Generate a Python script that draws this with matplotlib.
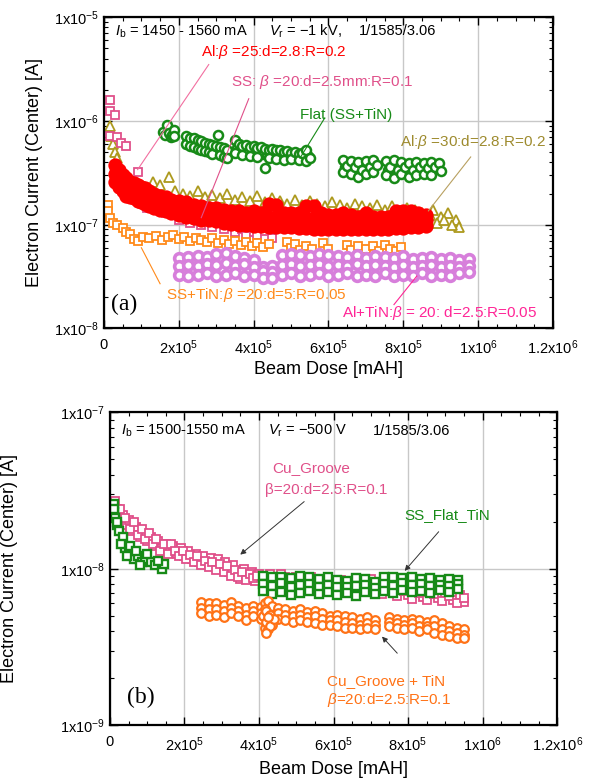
import numpy as np
import matplotlib
matplotlib.use('Agg')
import matplotlib.pyplot as plt
from matplotlib.ticker import MultipleLocator, LogLocator, NullFormatter

plt.rcParams['font.family'] = ['Liberation Sans', 'DejaVu Sans']
plt.rcParams['mathtext.fontset'] = 'custom'
plt.rcParams['mathtext.rm'] = 'Liberation Sans'
plt.rcParams['mathtext.it'] = 'Liberation Sans:italic'
plt.rcParams['mathtext.bf'] = 'Liberation Sans:bold'

# ---------------- panel (a) data ----------------
ss_pts = np.array([
    (1.5e4, 1.6e-6), (1.5e4, 1.25e-6), (3.0e4, 1.15e-6), (1.5e4, 7.1e-7), (3.5e4, 7.0e-7),
    (4.5e4, 6.2e-7), (6.0e4, 5.7e-7), (9.0e4, 3.2e-7), (1.0e5, 1.7e-7), (1.15e5, 1.45e-7),
    (1.3e5, 1.9e-7), (1.5e5, 1.5e-7), (1.65e5, 1.3e-7), (2.0e5, 1.1e-7), (2.1e5, 1.2e-7),
    (2.3e5, 1.05e-7), (2.4e5, 1.15e-7), (2.6e5, 1.0e-7), (2.8e5, 1.1e-7), (2.9e5, 9.5e-8),
    (3.1e5, 1.05e-7), (3.2e5, 9.0e-8), (3.4e5, 1.0e-7), (3.5e5, 8.5e-8), (3.7e5, 9.0e-8),
    (3.8e5, 7.8e-8), (4.0e5, 8.5e-8), (4.1e5, 8.0e-8), (4.3e5, 8.8e-8), (4.5e5, 7.5e-8)])

olive_pts = np.array([
    (1.5e4, 9.0e-7), (2.0e4, 7.2e-7), (2.5e4, 6.0e-7), (3.0e4, 5.0e-7), (3.5e4, 4.4e-7),
    (4.0e4, 3.8e-7), (5.0e4, 3.3e-7), (6.0e4, 3.0e-7), (7.0e4, 2.7e-7), (8.0e4, 2.5e-7),
    (9.5e4, 2.4e-7), (1.1e5, 2.3e-7), (1.3e5, 2.6e-7), (1.5e5, 2.4e-7), (1.75e5, 2.9e-7),
    (1.9e5, 2.1e-7), (2.1e5, 2.0e-7), (2.3e5, 1.9e-7), (2.5e5, 2.1e-7), (2.7e5, 1.85e-7),
    (2.9e5, 1.95e-7), (3.1e5, 1.8e-7), (3.3e5, 2.0e-7), (3.5e5, 1.75e-7), (3.7e5, 1.85e-7),
    (3.9e5, 1.7e-7), (4.1e5, 1.9e-7), (4.3e5, 1.65e-7), (4.5e5, 1.8e-7), (4.7e5, 1.7e-7),
    (4.9e5, 1.6e-7), (5.1e5, 1.75e-7), (5.3e5, 1.55e-7), (5.5e5, 1.7e-7), (5.7e5, 1.6e-7),
    (5.9e5, 1.5e-7), (6.1e5, 1.65e-7), (6.3e5, 1.55e-7), (6.5e5, 1.45e-7), (6.7e5, 1.6e-7),
    (6.9e5, 1.5e-7), (7.1e5, 1.45e-7), (7.3e5, 1.55e-7), (7.5e5, 1.4e-7), (7.7e5, 1.5e-7),
    (7.9e5, 1.35e-7), (8.1e5, 1.45e-7), (8.3e5, 1.4e-7), (8.5e5, 1.3e-7), (8.7e5, 1.25e-7),
    (8.8e5, 1.4e-7), (9.0e5, 1.2e-7), (9.2e5, 1.3e-7), (9.4e5, 1.1e-7), (9.5e5, 9.5e-8),
    (8.9e5, 1.05e-7), (9.1e5, 1.12e-7), (9.3e5, 1.0e-7)])

red_x = [3e4, 4e4, 5e4, 6e4, 7e4, 8e4, 9e4, 1.0e5, 1.1e5, 1.2e5, 1.35e5, 1.5e5, 1.65e5, 1.8e5,
         2.0e5, 2.2e5, 2.4e5, 2.6e5, 2.8e5, 3.0e5, 3.2e5, 3.4e5, 3.6e5, 3.8e5, 4.0e5, 4.2e5,
         4.4e5, 4.6e5, 4.8e5, 5.0e5, 5.2e5, 5.4e5, 5.6e5, 5.8e5, 6.0e5, 6.2e5, 6.4e5, 6.6e5,
         6.8e5, 7.0e5, 7.2e5, 7.4e5, 7.6e5, 7.8e5, 8.0e5, 8.2e5, 8.4e5, 8.6e5]
red_hi = [3.8e-7, 3.4e-7, 3.0e-7, 2.8e-7, 2.6e-7, 2.5e-7, 2.4e-7, 2.3e-7, 2.25e-7, 2.1e-7,
          2.0e-7, 1.9e-7, 1.85e-7, 1.75e-7, 1.7e-7, 1.65e-7, 1.55e-7, 1.5e-7, 1.45e-7, 1.45e-7,
          1.4e-7, 1.35e-7, 1.35e-7, 1.3e-7, 1.35e-7, 1.3e-7, 1.6e-7, 1.55e-7, 1.3e-7, 1.3e-7,
          1.3e-7, 1.5e-7, 1.5e-7, 1.3e-7, 1.25e-7, 1.25e-7, 1.3e-7, 1.25e-7, 1.2e-7, 1.3e-7,
          1.2e-7, 1.2e-7, 1.2e-7, 1.35e-7, 1.35e-7, 1.35e-7, 1.3e-7, 1.25e-7]
red_mid = [3.1e-7, 2.8e-7, 2.5e-7, 2.3e-7, 2.2e-7, 2.1e-7, 2.0e-7, 1.95e-7, 1.9e-7, 1.78e-7,
           1.7e-7, 1.63e-7, 1.58e-7, 1.5e-7, 1.46e-7, 1.4e-7, 1.33e-7, 1.3e-7, 1.26e-7, 1.25e-7,
           1.21e-7, 1.17e-7, 1.16e-7, 1.14e-7, 1.15e-7, 1.13e-7, 1.2e-7, 1.18e-7, 1.1e-7, 1.1e-7,
           1.1e-7, 1.15e-7, 1.15e-7, 1.09e-7, 1.07e-7, 1.06e-7, 1.08e-7, 1.06e-7, 1.04e-7, 1.08e-7,
           1.04e-7, 1.05e-7, 1.05e-7, 1.12e-7, 1.13e-7, 1.13e-7, 1.12e-7, 1.1e-7]
red_lo = [2.6e-7, 2.3e-7, 2.1e-7, 1.9e-7, 1.85e-7, 1.8e-7, 1.7e-7, 1.65e-7, 1.6e-7, 1.5e-7,
          1.45e-7, 1.4e-7, 1.35e-7, 1.3e-7, 1.25e-7, 1.2e-7, 1.15e-7, 1.12e-7, 1.1e-7, 1.08e-7,
          1.05e-7, 1.02e-7, 1.0e-7, 1.0e-7, 9.8e-8, 9.8e-8, 9.6e-8, 9.5e-8, 9.5e-8, 9.5e-8,
          9.3e-8, 9.3e-8, 9.2e-8, 9.2e-8, 9.2e-8, 9.1e-8, 9.1e-8, 9.0e-8, 9.0e-8, 9.0e-8,
          9.0e-8, 9.1e-8, 9.2e-8, 9.3e-8, 9.4e-8, 9.5e-8, 9.6e-8, 9.8e-8]

flat_pts = np.array([
    (1.58e5, 7.9e-7), (1.63e5, 7.4e-7), (1.68e5, 9.2e-7), (1.73e5, 7.6e-7), (1.78e5, 7.0e-7),
    (1.83e5, 7.3e-7), (1.88e5, 8.2e-7), (1.88e5, 7.1e-7),
    (2.2e5, 7.2e-7), (2.2e5, 6.0e-7), (2.3e5, 6.9e-7), (2.3e5, 5.8e-7), (2.4e5, 6.8e-7),
    (2.4e5, 5.6e-7), (2.5e5, 6.5e-7), (2.5e5, 5.4e-7), (2.6e5, 6.4e-7), (2.6e5, 5.3e-7),
    (2.7e5, 6.2e-7), (2.7e5, 5.1e-7), (2.8e5, 6.0e-7), (2.8e5, 5.0e-7), (2.9e5, 5.9e-7),
    (2.9e5, 4.8e-7), (3.0e5, 5.8e-7), (3.05e5, 7.4e-7), (3.1e5, 5.6e-7), (3.1e5, 4.7e-7),
    (3.2e5, 5.5e-7), (3.2e5, 4.5e-7), (3.3e5, 5.2e-7), (3.3e5, 4.4e-7),
    (3.5e5, 6.6e-7), (3.5e5, 4.9e-7), (3.6e5, 6.0e-7), (3.7e5, 5.8e-7), (3.7e5, 4.7e-7),
    (3.8e5, 5.9e-7), (3.9e5, 5.6e-7), (3.9e5, 4.6e-7), (4.0e5, 5.7e-7), (4.1e5, 5.5e-7),
    (4.1e5, 4.5e-7), (4.2e5, 5.6e-7), (4.3e5, 5.4e-7), (4.3e5, 3.5e-7), (4.4e5, 5.3e-7),
    (4.4e5, 4.4e-7), (4.5e5, 5.4e-7), (4.6e5, 5.2e-7), (4.6e5, 4.3e-7), (4.7e5, 5.2e-7),
    (4.8e5, 5.0e-7), (4.8e5, 4.2e-7), (4.9e5, 5.1e-7), (5.0e5, 4.9e-7), (5.0e5, 4.3e-7),
    (5.1e5, 5.0e-7), (5.2e5, 4.8e-7), (5.2e5, 4.2e-7), (5.3e5, 4.9e-7), (5.4e5, 5.2e-7),
    (5.4e5, 4.1e-7), (5.5e5, 4.4e-7),
    (6.4e5, 4.2e-7), (6.4e5, 3.2e-7), (6.5e5, 3.7e-7), (6.6e5, 4.1e-7), (6.6e5, 3.1e-7),
    (6.7e5, 3.6e-7), (6.8e5, 4.0e-7), (6.8e5, 2.9e-7), (6.9e5, 3.4e-7), (7.0e5, 4.1e-7),
    (7.0e5, 3.1e-7), (7.1e5, 3.6e-7), (7.2e5, 4.2e-7), (7.2e5, 3.2e-7), (7.3e5, 3.8e-7),
    (7.55e5, 4.1e-7), (7.55e5, 3.0e-7), (7.65e5, 3.6e-7), (7.75e5, 4.2e-7), (7.75e5, 2.8e-7),
    (7.85e5, 3.4e-7), (7.95e5, 4.0e-7), (7.95e5, 3.1e-7), (8.05e5, 3.6e-7), (8.15e5, 3.9e-7),
    (8.15e5, 2.9e-7), (8.25e5, 3.4e-7), (8.35e5, 4.0e-7), (8.35e5, 3.0e-7), (8.45e5, 3.6e-7),
    (8.55e5, 3.9e-7), (8.55e5, 3.1e-7), (8.65e5, 3.5e-7), (8.75e5, 4.0e-7), (8.75e5, 3.0e-7),
    (8.85e5, 3.6e-7), (8.95e5, 3.9e-7), (9.0e5, 3.3e-7)])
flat_more = np.array([
    (2.25e5, 6.5e-7), (2.35e5, 6.2e-7), (2.45e5, 6.1e-7), (2.55e5, 5.9e-7), (2.65e5, 5.8e-7),
    (2.75e5, 5.6e-7), (2.85e5, 5.5e-7), (2.95e5, 5.3e-7), (3.05e5, 5.1e-7), (3.15e5, 5.0e-7),
    (3.25e5, 4.9e-7),
    (3.55e5, 5.5e-7), (3.65e5, 5.3e-7), (3.75e5, 5.2e-7), (3.85e5, 5.1e-7), (3.95e5, 5.0e-7),
    (4.05e5, 5.0e-7), (4.15e5, 4.9e-7), (4.25e5, 4.8e-7), (4.35e5, 4.8e-7), (4.45e5, 4.7e-7),
    (4.55e5, 4.7e-7), (4.65e5, 4.6e-7), (4.75e5, 4.6e-7), (4.85e5, 4.5e-7), (4.95e5, 4.6e-7),
    (5.05e5, 4.5e-7), (5.15e5, 4.4e-7), (5.25e5, 4.5e-7), (5.35e5, 4.4e-7), (5.45e5, 4.6e-7),
    (6.45e5, 3.6e-7), (6.55e5, 3.3e-7), (6.75e5, 3.2e-7), (6.95e5, 3.7e-7), (7.15e5, 3.3e-7),
    (7.6e5, 3.4e-7), (7.8e5, 3.7e-7), (8.0e5, 3.3e-7), (8.2e5, 3.6e-7), (8.4e5, 3.3e-7),
    (8.6e5, 3.6e-7), (8.8e5, 3.4e-7)])

sstin_pts = np.array([
    (1.0e4, 1.55e-7), (1.2e4, 1.35e-7), (1.5e4, 1.15e-7), (2.5e4, 1.05e-7), (3.5e4, 1.0e-7),
    (5.0e4, 9.4e-8), (6.0e4, 8.6e-8), (7.0e4, 8.1e-8), (8.0e4, 7.3e-8), (9.0e4, 7.0e-8),
    (1.05e5, 7.6e-8), (1.2e5, 7.4e-8), (1.4e5, 7.8e-8), (1.55e5, 7.2e-8), (1.7e5, 7.6e-8),
    (1.85e5, 7.9e-8), (2.0e5, 7.3e-8), (2.15e5, 7.7e-8), (2.3e5, 6.9e-8), (2.45e5, 7.5e-8),
    (2.6e5, 7.2e-8), (2.75e5, 6.8e-8), (2.9e5, 7.4e-8), (3.05e5, 6.6e-8), (3.2e5, 7.1e-8),
    (3.35e5, 6.5e-8), (3.5e5, 7.0e-8), (3.65e5, 6.4e-8), (3.8e5, 6.8e-8), (3.95e5, 6.2e-8),
    (4.1e5, 6.6e-8), (4.25e5, 6.1e-8), (4.4e5, 6.5e-8), (4.9e5, 6.8e-8), (5.0e5, 6.0e-8),
    (5.1e5, 6.5e-8), (5.25e5, 5.7e-8), (5.4e5, 6.3e-8), (5.55e5, 5.8e-8), (5.85e5, 6.6e-8),
    (6.0e5, 5.9e-8), (6.5e5, 6.4e-8), (6.6e5, 5.7e-8), (6.8e5, 6.3e-8), (7.0e5, 5.8e-8),
    (7.2e5, 6.2e-8), (7.35e5, 5.6e-8), (7.5e5, 6.4e-8), (7.65e5, 5.9e-8), (7.8e5, 5.6e-8),
    (7.95e5, 6.1e-8)])

altin_x = [2.0e5, 2.25e5, 2.5e5, 2.75e5, 3.0e5, 3.25e5, 3.5e5, 3.75e5, 4.0e5, 4.25e5, 4.5e5,
           4.75e5, 5.0e5, 5.25e5, 5.5e5, 5.75e5, 6.0e5, 6.25e5, 6.5e5, 6.75e5, 7.0e5, 7.25e5,
           7.5e5, 7.75e5, 8.0e5, 8.25e5, 8.5e5, 8.75e5, 9.0e5, 9.25e5, 9.5e5, 9.75e5]
altin_hi = [4.8e-8, 4.9e-8, 5.0e-8, 4.9e-8, 5.2e-8, 5.4e-8, 5.0e-8, 4.8e-8, 4.6e-8, 3.9e-8,
            4.0e-8, 5.1e-8, 5.2e-8, 5.1e-8, 5.0e-8, 5.2e-8, 5.1e-8, 5.0e-8, 4.9e-8, 5.1e-8,
            4.8e-8, 5.0e-8, 4.9e-8, 4.8e-8, 5.0e-8, 4.7e-8, 4.8e-8, 4.9e-8, 4.7e-8, 4.8e-8,
            4.6e-8, 4.7e-8]
altin_mid = [4.0e-8, 4.1e-8, 4.0e-8, 4.2e-8, 4.1e-8, 4.3e-8, 4.0e-8, 4.2e-8, 3.9e-8, 3.6e-8,
             3.5e-8, 4.1e-8, 4.2e-8, 4.0e-8, 4.1e-8, 4.2e-8, 4.0e-8, 4.1e-8, 4.0e-8, 4.2e-8,
             4.0e-8, 4.1e-8, 4.0e-8, 3.9e-8, 4.1e-8, 3.9e-8, 4.0e-8, 4.1e-8, 3.9e-8, 4.0e-8,
             3.9e-8, 4.0e-8]
altin_lo = [3.3e-8, 3.2e-8, 3.3e-8, 3.4e-8, 3.2e-8, 3.3e-8, 3.4e-8, 3.2e-8, 3.3e-8, 3.1e-8,
            3.1e-8, 3.3e-8, 3.4e-8, 3.2e-8, 3.3e-8, 3.4e-8, 3.2e-8, 3.3e-8, 3.4e-8, 3.2e-8,
            3.3e-8, 3.2e-8, 3.4e-8, 3.2e-8, 3.3e-8, 3.2e-8, 3.4e-8, 3.2e-8, 3.3e-8, 3.2e-8,
            3.4e-8, 3.5e-8]

# ---------------- panel (b) data ----------------
cu_pts = np.array([
    (1.5e4, 2.7e-8), (2.0e4, 2.4e-8), (2.5e4, 2.2e-8), (3.0e4, 2.0e-8), (3.5e4, 2.2e-8),
    (4.5e4, 1.9e-8), (5.0e4, 2.05e-8), (6.0e4, 1.75e-8), (7.0e4, 1.85e-8), (8.0e4, 1.6e-8),
    (9.0e4, 1.7e-8), (1.0e5, 1.5e-8), (1.1e5, 1.6e-8), (1.2e5, 1.4e-8), (1.3e5, 1.5e-8),
    (1.4e5, 1.35e-8), (1.5e5, 1.45e-8), (1.6e5, 1.3e-8), (1.7e5, 1.4e-8), (1.8e5, 1.25e-8),
    (1.9e5, 1.35e-8), (2.0e5, 1.2e-8), (2.1e5, 1.3e-8), (2.2e5, 1.15e-8), (2.3e5, 1.25e-8),
    (2.4e5, 1.1e-8), (2.5e5, 1.2e-8), (2.6e5, 1.1e-8), (2.7e5, 1.18e-8), (2.8e5, 1.05e-8),
    (2.9e5, 1.15e-8), (3.0e5, 1.02e-8), (3.1e5, 1.1e-8), (3.2e5, 9.6e-9), (3.3e5, 1.05e-8),
    (3.4e5, 9.3e-9), (3.5e5, 8.6e-9), (3.6e5, 1.0e-8), (3.7e5, 9.0e-9), (3.8e5, 9.6e-9),
    (3.9e5, 8.3e-9), (4.0e5, 9.3e-9), (4.2e5, 9.0e-9), (4.4e5, 8.6e-9), (4.6e5, 9.2e-9),
    (4.8e5, 8.3e-9), (5.0e5, 8.9e-9), (5.2e5, 8.0e-9), (5.4e5, 8.8e-9), (5.6e5, 7.8e-9),
    (5.8e5, 8.6e-9), (6.0e5, 7.6e-9), (6.2e5, 8.5e-9), (6.4e5, 7.4e-9), (6.6e5, 8.3e-9),
    (6.8e5, 7.3e-9), (7.0e5, 8.6e-9), (7.2e5, 7.2e-9), (7.4e5, 8.1e-9), (7.6e5, 7.0e-9),
    (7.8e5, 7.8e-9), (8.0e5, 6.8e-9), (8.2e5, 7.4e-9), (8.4e5, 6.6e-9), (8.6e5, 7.2e-9),
    (8.8e5, 6.5e-9), (9.0e5, 7.0e-9), (9.2e5, 6.3e-9), (9.4e5, 6.8e-9), (9.5e5, 6.1e-9)])
cu_more = np.array([
    (1.2e4, 2.5e-8), (1.8e4, 2.1e-8), (2.8e4, 2.4e-8), (4.0e4, 2.1e-8), (5.5e4, 1.8e-8),
    (6.5e4, 2.0e-8), (7.5e4, 1.65e-8), (8.5e4, 1.8e-8), (9.5e4, 1.55e-8), (1.05e5, 1.7e-8),
    (1.15e5, 1.45e-8), (1.25e5, 1.55e-8), (1.35e5, 1.3e-8), (1.45e5, 1.45e-8), (1.55e5, 1.25e-8),
    (1.65e5, 1.45e-8), (1.75e5, 1.3e-8), (1.85e5, 1.2e-8), (1.95e5, 1.3e-8), (2.05e5, 1.15e-8),
    (2.15e5, 1.22e-8), (2.25e5, 1.1e-8), (2.35e5, 1.2e-8), (2.45e5, 1.05e-8), (2.55e5, 1.12e-8),
    (2.65e5, 1.02e-8), (2.75e5, 1.1e-8), (2.85e5, 9.8e-9), (2.95e5, 1.08e-8), (3.05e5, 9.5e-9),
    (3.15e5, 1.04e-8), (3.25e5, 9.0e-9), (3.35e5, 9.8e-9), (3.45e5, 8.9e-9), (3.55e5, 9.5e-9),
    (3.65e5, 8.5e-9), (3.75e5, 9.2e-9), (3.85e5, 8.7e-9), (3.95e5, 9.0e-9), (4.1e5, 8.5e-9),
    (4.3e5, 9.3e-9), (4.5e5, 8.2e-9), (4.7e5, 8.8e-9), (4.9e5, 8.0e-9), (5.1e5, 8.5e-9),
    (5.3e5, 7.7e-9), (5.5e5, 8.3e-9), (5.7e5, 7.5e-9), (5.9e5, 8.1e-9), (6.1e5, 7.4e-9),
    (6.3e5, 8.0e-9), (6.5e5, 7.2e-9), (6.7e5, 7.9e-9), (6.9e5, 7.1e-9), (7.1e5, 7.8e-9),
    (7.3e5, 6.9e-9), (7.5e5, 7.6e-9), (7.7e5, 6.7e-9), (7.9e5, 7.2e-9), (8.1e5, 6.4e-9),
    (8.3e5, 7.0e-9), (8.5e5, 6.3e-9), (8.7e5, 6.9e-9), (8.9e5, 6.2e-9), (9.1e5, 6.7e-9),
    (9.3e5, 6.0e-9), (9.5e5, 6.5e-9)])

flat_tin_early = np.array([
    (1.0e4, 2.6e-8), (1.2e4, 2.3e-8), (1.5e4, 2.1e-8), (1.8e4, 1.9e-8), (2.5e4, 1.75e-8),
    (3.5e4, 1.6e-8), (4.0e4, 1.35e-8), (5.0e4, 1.3e-8), (6.0e4, 1.25e-8), (6.5e4, 1.15e-8),
    (7.5e4, 1.2e-8), (8.5e4, 1.1e-8), (9.5e4, 1.15e-8), (1.1e5, 1.1e-8), (1.2e5, 1.05e-8),
    (1.4e5, 1.0e-8), (1.45e5, 1.07e-8), (1.0e4, 2.4e-8), (2.0e4, 2.0e-8), (3.0e4, 1.45e-8),
    (4.5e4, 1.2e-8), (5.5e4, 1.4e-8), (7.0e4, 1.3e-8), (8.0e4, 1.05e-8), (1.0e5, 1.25e-8),
    (1.3e5, 1.12e-8)])
flat_tin_x = [4.1e5, 4.35e5, 4.6e5, 4.85e5, 5.1e5, 5.35e5, 5.6e5, 5.85e5, 6.1e5, 6.35e5, 6.6e5,
              6.85e5, 7.1e5, 7.35e5, 7.6e5, 7.85e5, 8.1e5, 8.35e5, 8.6e5, 8.85e5, 9.1e5, 9.35e5]
flat_tin_hi = [9.0e-9, 8.8e-9, 8.9e-9, 8.7e-9, 9.0e-9, 8.8e-9, 8.6e-9, 8.9e-9, 8.5e-9, 8.4e-9,
               8.7e-9, 8.6e-9, 8.2e-9, 8.9e-9, 8.8e-9, 8.7e-9, 8.8e-9, 8.6e-9, 8.7e-9, 8.5e-9,
               8.6e-9, 8.5e-9]
flat_tin_mid = [8.0e-9, 7.8e-9, 8.1e-9, 7.7e-9, 7.9e-9, 8.0e-9, 7.6e-9, 7.9e-9, 7.7e-9, 7.6e-9,
                7.8e-9, 7.9e-9, 7.5e-9, 8.0e-9, 7.8e-9, 8.1e-9, 7.9e-9, 8.0e-9, 7.8e-9, 7.9e-9,
                7.8e-9, 8.0e-9]
flat_tin_lo = [7.2e-9, 6.9e-9, 7.1e-9, 6.8e-9, 7.0e-9, 7.2e-9, 6.9e-9, 7.1e-9, 6.8e-9, 7.0e-9,
               6.7e-9, 7.1e-9, 6.9e-9, 7.2e-9, 7.0e-9, 7.3e-9, 7.1e-9, 7.2e-9, 7.0e-9, 7.3e-9,
               7.1e-9, 7.4e-9]

cutin_x = [2.45e5, 2.65e5, 2.85e5, 3.05e5, 3.25e5, 3.45e5, 3.65e5, 3.85e5, 4.05e5, 4.15e5,
           4.25e5, 4.35e5, 4.5e5, 4.7e5, 4.9e5, 5.1e5, 5.3e5, 5.5e5, 5.7e5, 5.9e5, 6.1e5,
           6.3e5, 6.5e5, 6.7e5, 6.9e5, 7.1e5, 7.5e5, 7.7e5, 7.9e5, 8.1e5, 8.3e5, 8.5e5,
           8.7e5, 8.9e5, 9.1e5, 9.3e5, 9.5e5]
cutin_hi = [6.1e-9, 6.0e-9, 6.0e-9, 5.9e-9, 6.1e-9, 5.8e-9, 5.6e-9, 5.8e-9, 5.7e-9, 6.0e-9,
            6.2e-9, 5.8e-9, 5.6e-9, 5.5e-9, 5.4e-9, 5.5e-9, 5.3e-9, 5.4e-9, 5.2e-9, 5.0e-9,
            5.1e-9, 5.0e-9, 4.9e-9, 4.8e-9, 4.9e-9, 4.7e-9, 4.9e-9, 4.8e-9, 4.7e-9, 4.8e-9,
            4.7e-9, 4.6e-9, 4.7e-9, 4.5e-9, 4.3e-9, 4.2e-9, 4.1e-9]
cutin_mid = [5.6e-9, 5.5e-9, 5.5e-9, 5.4e-9, 5.6e-9, 5.4e-9, 5.1e-9, 5.4e-9, 5.2e-9, 5.5e-9,
             4.6e-9, 5.1e-9, 5.2e-9, 5.1e-9, 5.0e-9, 5.1e-9, 4.9e-9, 5.0e-9, 4.8e-9, 4.7e-9,
             4.7e-9, 4.6e-9, 4.5e-9, 4.4e-9, 4.5e-9, 4.4e-9, 4.6e-9, 4.5e-9, 4.4e-9, 4.5e-9,
             4.3e-9, 4.3e-9, 4.3e-9, 4.1e-9, 4.0e-9, 3.9e-9, 3.8e-9]
cutin_lo = [5.2e-9, 5.0e-9, 5.1e-9, 4.9e-9, 5.2e-9, 5.0e-9, 4.7e-9, 5.0e-9, 4.8e-9, 4.2e-9,
            4.1e-9, 4.4e-9, 4.8e-9, 4.7e-9, 4.6e-9, 4.7e-9, 4.6e-9, 4.5e-9, 4.4e-9, 4.4e-9,
            4.3e-9, 4.2e-9, 4.2e-9, 4.1e-9, 4.2e-9, 4.1e-9, 4.3e-9, 4.2e-9, 4.1e-9, 4.2e-9,
            4.0e-9, 4.1e-9, 3.9e-9, 3.8e-9, 3.7e-9, 3.6e-9, 3.6e-9]
cutin_spike = np.array([(4.1e5, 5.0e-9), (4.2e5, 4.6e-9), (4.2e5, 5.4e-9), (4.3e5, 4.3e-9),
                        (4.3e5, 5.1e-9), (4.4e5, 4.8e-9), (4.2e5, 3.9e-9), (4.25e5, 4.9e-9)])

x_ticks = [0, 2e5, 4e5, 6e5, 8e5, 1e6, 1.2e6]
x_labels = ['0', r'2x10$^5$', r'4x10$^5$', r'6x10$^5$', r'8x10$^5$', r'1x10$^6$', r'1.2x10$^6$']

PINK = '#e0508a'
OLIVE = '#ad9a1e'
RED = '#ff0000'
GREEN = '#178a17'
ORANGE = '#ff8a1a'
ORANGE_B = '#ff7216'
VIOLET = '#d77fdb'
MAGENTA = '#ff2596'


def style_axes(ax, yticks, ylabels, ylim):
    ax.set_yscale('log')
    ax.set_xlim(0, 1.2e6)
    ax.set_ylim(*ylim)
    ax.set_xticks(x_ticks)
    ax.set_xticklabels(x_labels)
    ax.set_yticks(yticks)
    ax.set_yticklabels(ylabels)
    ax.xaxis.set_minor_locator(MultipleLocator(5e4))
    ax.yaxis.set_minor_locator(LogLocator(base=10, subs=np.arange(2, 10)))
    ax.yaxis.set_minor_formatter(NullFormatter())
    ax.tick_params(which='both', direction='in', top=True, right=True, labelsize=10.5)
    ax.tick_params(which='major', length=6, width=1)
    ax.tick_params(which='minor', length=3, width=0.8)
    ax.tick_params(axis='x', pad=7)
    ax.grid(True, which='major', color='#c8c8c8', lw=1)
    ax.set_axisbelow(True)
    for s in ax.spines.values():
        s.set_linewidth(1.6)
    ax.set_xlabel('Beam Dose [mAH]', fontsize=13)
    ax.set_ylabel('Electron Current (Center) [A]', fontsize=13)


def markers(ax, x, y, marker, color, ms, mew=1.3, filled=False):
    ax.plot(x, y, linestyle='none', marker=marker, ms=ms, mew=mew, mec=color,
            mfc=color if filled else 'white')


fig = plt.figure(figsize=(5.94, 7.84), dpi=100)
ax1 = fig.add_axes([0.175, 0.581, 0.756, 0.397])
ax2 = fig.add_axes([0.185, 0.075, 0.753, 0.399])

# ---------- panel (a) ----------
style_axes(ax1, [1e-8, 1e-7, 1e-6, 1e-5],
           [r'1x10$^{-8}$', r'1x10$^{-7}$', r'1x10$^{-6}$', r'1x10$^{-5}$'], (1e-8, 1e-5))
ax1.yaxis.set_label_coords(-0.135, 0.5)
ax1.xaxis.set_label_coords(0.5, -0.105)

markers(ax1, olive_pts[:, 0], olive_pts[:, 1], '^', OLIVE, 6.5)
markers(ax1, ss_pts[:, 0], ss_pts[:, 1], 's', PINK, 5.8)
markers(ax1, sstin_pts[:, 0], sstin_pts[:, 1], 's', ORANGE, 5.8)
for row in (altin_hi, altin_mid, altin_lo):
    markers(ax1, altin_x, row, 'o', VIOLET, 7, mew=2.6)
markers(ax1, flat_more[:, 0], flat_more[:, 1], 'o', GREEN, 6.5, mew=1.8)
markers(ax1, flat_pts[:, 0], flat_pts[:, 1], 'o', GREEN, 6.5, mew=1.8)
for row in (red_lo, red_mid, red_hi):
    markers(ax1, red_x, row, 'o', RED, 9, filled=True)

txt = dict(fontsize=11, va='center', ha='left')
ax1.text(0.03e6, 7.3e-6, r'$I_{\mathrm{b}}$ = 1450 - 1560 mA', fontsize=10.5, va='center')
ax1.text(0.44e6, 7.3e-6, r'$V_{\mathrm{r}}$ = $-$1 kV,', fontsize=10.5, va='center')
ax1.text(0.68e6, 7.3e-6, '1/1585/3.06', fontsize=10.5, va='center')
ax1.text(0.26e6, 4.6e-6, r'Al:$\beta$ =25:d=2.8:R=0.2', color=RED, **txt)
ax1.text(0.34e6, 2.35e-6, r'SS: $\beta$ =20:d=2.5mm:R=0.1', color=PINK, **txt)
ax1.text(0.524e6, 1.15e-6, 'Flat (SS+TiN)', color=GREEN, **txt)
ax1.text(0.79e6, 6.3e-7, r'Al:$\beta$ =30:d=2.8:R=0.2', color='#9e8b2e', **txt)
ax1.text(0.165e6, 2.1e-8, r'SS+TiN:$\beta$ =20:d=5:R=0.05', color=ORANGE, **txt)
ax1.text(0.636e6, 1.4e-8, r'Al+TiN:$\beta$ = 20: d=2.5:R=0.05', color=MAGENTA, **txt)
ax1.text(0.02e6, 1.7e-8, '(a)', family='Liberation Serif', fontsize=17, va='center')

ax1.plot([0.28e6, 0.09e6], [3.5e-6, 3.4e-7], color='#f26fa0', lw=0.8)
ax1.plot([0.387e6, 0.26e6], [1.64e-6, 1.17e-7], color=PINK, lw=0.8)
ax1.plot([0.59e6, 0.524e6], [1.07e-6, 4.4e-7], color=GREEN, lw=0.8)
ax1.plot([0.98e6, 0.867e6], [4.5e-7, 1.36e-7], color='#b8a060', lw=0.8)
ax1.plot([0.15e6, 0.10e6], [2.7e-8, 6e-8], color=ORANGE, lw=0.8)
ax1.plot([0.775e6, 0.836e6], [1.7e-8, 3.2e-8], color=MAGENTA, lw=0.8)

# ---------- panel (b) ----------
style_axes(ax2, [1e-9, 1e-8, 1e-7],
           [r'1x10$^{-9}$', r'1x10$^{-8}$', r'1x10$^{-7}$'], (1e-9, 1e-7))
ax2.yaxis.set_label_coords(-0.205, 0.5)
ax2.xaxis.set_label_coords(0.5, -0.115)

markers(ax2, cu_pts[:, 0], cu_pts[:, 1], 's', PINK, 5.8)
markers(ax2, cu_more[:, 0], cu_more[:, 1], 's', PINK, 5.8)
markers(ax2, flat_tin_early[:, 0], flat_tin_early[:, 1], 's', GREEN, 5.8, mew=1.7)
for row in (flat_tin_hi, flat_tin_mid, flat_tin_lo):
    markers(ax2, flat_tin_x, row, 's', GREEN, 5.8, mew=1.7)
for row in (cutin_hi, cutin_mid, cutin_lo):
    markers(ax2, cutin_x, row, 'o', ORANGE_B, 6.2, mew=1.6)
markers(ax2, cutin_spike[:, 0], cutin_spike[:, 1], 'o', ORANGE_B, 6.2, mew=1.6)

ax2.text(0.03e6, 7.6e-8, r'$I_{\mathrm{b}}$ = 1500-1550 mA', fontsize=10.5, va='center')
ax2.text(0.425e6, 7.6e-8, r'$V_{\mathrm{r}}$ = $-$500 V', fontsize=10.5, va='center')
ax2.text(0.705e6, 7.6e-8, '1/1585/3.06', fontsize=10.5, va='center')
ax2.text(0.435e6, 4.4e-8, 'Cu_Groove', color=PINK, **txt)
ax2.text(0.415e6, 3.2e-8, 'β=20:d=2.5:R=0.1', color=PINK, **txt)
ax2.text(0.79e6, 2.2e-8, 'SS_Flat_TiN', color=GREEN, **txt)
ax2.text(0.583e6, 1.93e-9, 'Cu_Groove + TiN', color=ORANGE_B, **txt)
ax2.text(0.583e6, 1.45e-9, r'$\beta$=20:d=2.5:R=0.1', color=ORANGE_B, **txt)
ax2.text(0.045e6, 1.5e-9, '(b)', family='Liberation Serif', fontsize=17, va='center')

arrow = dict(arrowstyle='-|>', color='#333333', lw=0.7, mutation_scale=8)
ax2.annotate('', xy=(0.344e6, 1.2e-8), xytext=(0.527e6, 2.76e-8), arrowprops=arrow)
ax2.annotate('', xy=(0.786e6, 9.4e-9), xytext=(0.887e6, 1.78e-8), arrowprops=arrow)
ax2.annotate('', xy=(0.725e6, 3.8e-9), xytext=(0.776e6, 2.8e-9), arrowprops=arrow)

fig.savefig('out.png', dpi=100)
